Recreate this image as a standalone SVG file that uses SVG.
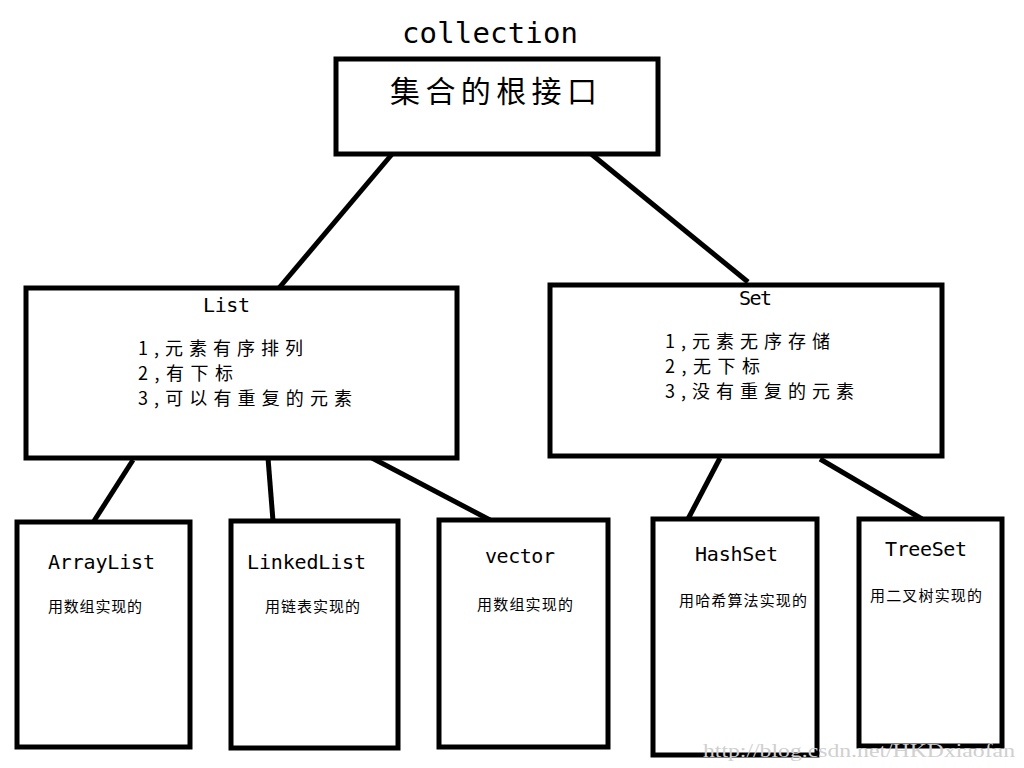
<svg xmlns="http://www.w3.org/2000/svg" width="1024" height="768" viewBox="0 0 1024 768">
<style>
.box{fill:#fff;stroke:#000;stroke-width:5}
.ln{stroke:#000;stroke-width:5;stroke-linecap:butt}
.t{font-family:"DejaVu Sans Mono","Liberation Mono","Noto Sans CJK SC",monospace;fill:#000}
.c{font-family:"Noto Sans CJK SC","Noto Sans CJK JP",sans-serif;fill:#000}
.wm{font-family:"Liberation Serif","DejaVu Serif",serif;fill:#d0d0d0;font-size:19px}
</style>
<rect width="1024" height="768" fill="#fff"/>
<g id="connectors">
<line class="ln" x1="393" y1="153" x2="279" y2="288"/>
<line class="ln" x1="590" y1="153" x2="748" y2="282"/>
<line class="ln" x1="133" y1="460" x2="94" y2="521"/>
<line class="ln" x1="268" y1="458" x2="273" y2="521"/>
<line class="ln" x1="372" y1="458" x2="490" y2="520"/>
<line class="ln" x1="720" y1="458" x2="688" y2="519"/>
<line class="ln" x1="820" y1="459" x2="922" y2="519"/>
</g>
<g id="collection">
<text class="t" x="402" y="43" font-size="29" textLength="176" lengthAdjust="spacing">collection</text>
<rect class="box" x="336" y="59" width="322" height="95"/>
<text class="c" x="390" y="102" font-size="30" textLength="207" lengthAdjust="spacing">集合的根接口</text>
</g>
<g id="list">
<rect class="box" x="26" y="288" width="431" height="170"/>
<text class="t" x="203" y="312" font-size="20" textLength="47" lengthAdjust="spacing">List</text>
<text class="c" x="138" y="355" font-size="18" textLength="165" lengthAdjust="spacing">1,元素有序排列</text>
<text class="c" x="138" y="380" font-size="18" textLength="95" lengthAdjust="spacing">2,有下标</text>
<text class="c" x="138" y="405" font-size="18" textLength="214" lengthAdjust="spacing">3,可以有重复的元素</text>
</g>
<g id="set">
<rect class="box" x="550" y="285" width="392" height="171"/>
<text class="t" x="739" y="305" font-size="20" textLength="33" lengthAdjust="spacing">Set</text>
<text class="c" x="665" y="348" font-size="18" textLength="165" lengthAdjust="spacing">1,元素无序存储</text>
<text class="c" x="665" y="373" font-size="18" textLength="95" lengthAdjust="spacing">2,无下标</text>
<text class="c" x="665" y="398" font-size="18" textLength="189" lengthAdjust="spacing">3,没有重复的元素</text>
</g>
<g id="arraylist">
<rect class="box" x="17" y="522" width="173" height="225"/>
<text class="t" x="48" y="569" font-size="20" textLength="107" lengthAdjust="spacing">ArrayList</text>
<text class="c" x="48" y="612" font-size="15" textLength="94" lengthAdjust="spacing">用数组实现的</text>
</g>
<g id="linkedlist">
<rect class="box" x="231" y="521" width="167" height="227"/>
<text class="t" x="247" y="569" font-size="20" textLength="119" lengthAdjust="spacing">LinkedList</text>
<text class="c" x="265" y="612" font-size="15" textLength="95" lengthAdjust="spacing">用链表实现的</text>
</g>
<g id="vector">
<rect class="box" x="439" y="520" width="169" height="227"/>
<text class="t" x="485" y="563" font-size="20" textLength="70" lengthAdjust="spacing">vector</text>
<text class="c" x="477" y="610" font-size="15" textLength="96" lengthAdjust="spacing">用数组实现的</text>
</g>
<g id="hashset">
<rect class="box" x="653" y="519" width="164" height="236"/>
<text class="t" x="695" y="561" font-size="20" textLength="83" lengthAdjust="spacing">HashSet</text>
<text class="c" x="679" y="606" font-size="15" textLength="128" lengthAdjust="spacing">用哈希算法实现的</text>
</g>
<g id="treeset">
<rect class="box" x="859" y="519" width="143" height="227"/>
<text class="t" x="885" y="556" font-size="20" textLength="82" lengthAdjust="spacing">TreeSet</text>
<text class="c" x="870" y="601" font-size="15" textLength="112" lengthAdjust="spacing">用二叉树实现的</text>
</g>
<text class="wm" x="703" y="757" textLength="312" lengthAdjust="spacingAndGlyphs">http://blog.csdn.net/HKDxiaofan</text>
</svg>
